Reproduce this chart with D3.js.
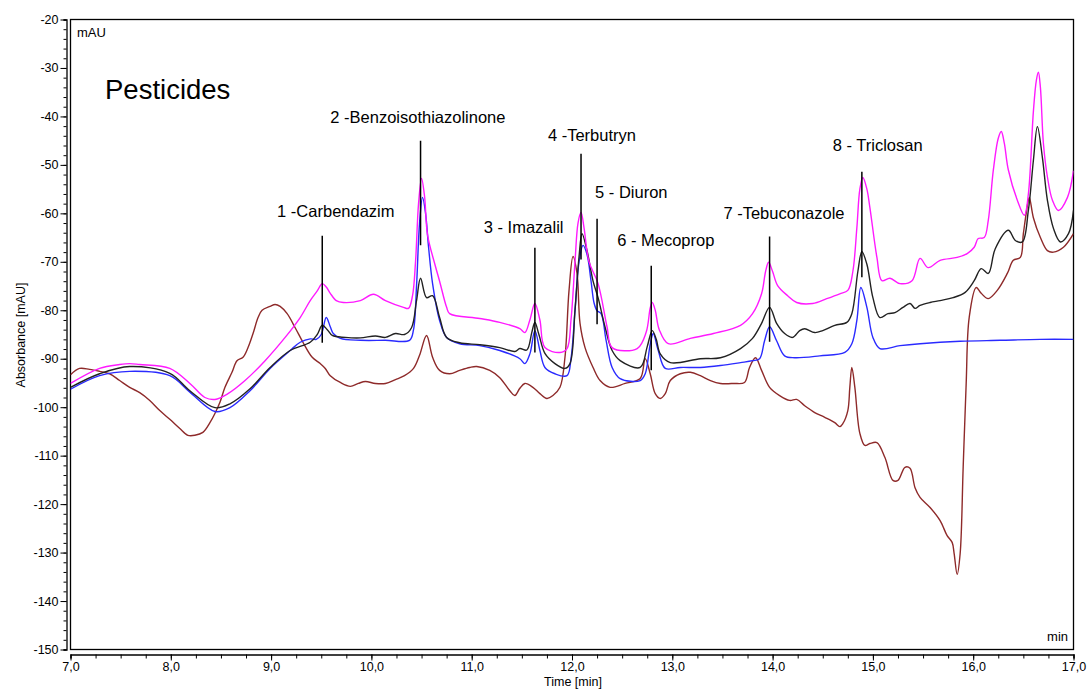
<!DOCTYPE html>
<html><head><meta charset="utf-8">
<script src="https://cdn.jsdelivr.net/npm/d3@7"></script>
<style>body{margin:0;background:#fff}svg{display:block;font-family:"Liberation Sans",Arial,sans-serif}</style>
</head><body><svg id="c" width="1090" height="690"></svg>
<script>
// ---- data (time [min], absorbance [mAU]) ----
const magenta = [[7.00,-95.1],[7.29,-92.0],[7.49,-91.2],[7.59,-91.0],[7.69,-91.2],[7.99,-92.0],[8.19,-95.1],[8.34,-98.0],[8.44,-98.4],[8.57,-97.2],[8.74,-94.5],[8.94,-90.4],[9.14,-85.6],[9.29,-81.5],[9.39,-78.0],[9.46,-76.0],[9.51,-74.5],[9.55,-75.2],[9.59,-76.5],[9.65,-78.0],[9.72,-78.4],[9.89,-78.0],[10.02,-76.7],[10.14,-78.0],[10.32,-79.4],[10.37,-79.6],[10.41,-77],[10.44,-70],[10.47,-58],[10.50,-52.8],[10.53,-56.5],[10.56,-64.5],[10.63,-70.3],[10.68,-74],[10.75,-79.4],[10.78,-80.7],[11.08,-81.7],[11.28,-82.5],[11.48,-83.8],[11.53,-84.6],[11.58,-82],[11.63,-78.6],[11.68,-82],[11.73,-87.7],[11.88,-88.7],[11.95,-87.9],[11.99,-82],[12.03,-70],[12.06,-62],[12.09,-59.8],[12.12,-63],[12.17,-70],[12.26,-74.5],[12.35,-83.5],[12.40,-87.7],[12.65,-87.9],[12.74,-84.5],[12.78,-79.5],[12.80,-78.4],[12.83,-80],[12.87,-84],[12.96,-86.9],[13.18,-85.8],[13.41,-84.8],[13.68,-83.1],[13.80,-80.7],[13.89,-76.6],[13.93,-72.0],[13.96,-70.1],[14.00,-72.0],[14.05,-74.9],[14.15,-77.0],[14.24,-78.4],[14.40,-78.6],[14.54,-77.6],[14.67,-76.6],[14.75,-75.9],[14.80,-72],[14.84,-63],[14.87,-55],[14.90,-52.6],[14.94,-55],[14.97,-58.8],[15.04,-69.1],[15.09,-73.9],[15.17,-73.4],[15.27,-74.5],[15.39,-73.9],[15.47,-69.3],[15.55,-71.2],[15.67,-69.7],[15.84,-69.1],[15.94,-68.3],[16.01,-67.0],[16.05,-65.2],[16.11,-65.0],[16.15,-61.5],[16.20,-51.2],[16.25,-44.5],[16.28,-43.1],[16.31,-45.5],[16.35,-51.0],[16.44,-57.3],[16.51,-60.4],[16.55,-56],[16.60,-39],[16.63,-32.5],[16.65,-30.9],[16.67,-34],[16.70,-45.6],[16.74,-52.5],[16.79,-57.3],[16.85,-59.4],[16.94,-56.7],[17.00,-51.2]];
const black = [[7.00,-95.9],[7.29,-93.1],[7.59,-91.6],[7.99,-93.0],[8.19,-96.6],[8.44,-100.1],[8.59,-99.3],[8.79,-96.2],[8.99,-91.8],[9.19,-88.3],[9.39,-86.6],[9.46,-85.0],[9.51,-83.1],[9.56,-84.0],[9.61,-85.2],[9.74,-85.6],[9.89,-85.7],[10.04,-85.3],[10.14,-85.6],[10.24,-84.8],[10.33,-85.0],[10.40,-83.6],[10.45,-78],[10.49,-73.4],[10.55,-77.4],[10.61,-77.0],[10.68,-81.5],[10.75,-85.6],[10.88,-86.7],[11.08,-87.1],[11.28,-87.7],[11.43,-88.5],[11.48,-87.9],[11.55,-88.2],[11.60,-84.5],[11.63,-82.5],[11.67,-85],[11.73,-88.9],[11.83,-91.0],[11.93,-92.0],[11.98,-91.0],[12.03,-80],[12.07,-69],[12.10,-64.2],[12.15,-67.7],[12.21,-74],[12.26,-77.4],[12.33,-83.5],[12.40,-88.3],[12.48,-90.4],[12.68,-91.8],[12.75,-87.5],[12.80,-84.2],[12.84,-86],[12.88,-89.0],[12.98,-90.8],[13.28,-90.0],[13.48,-89.8],[13.68,-87.9],[13.80,-85.8],[13.89,-82.7],[13.97,-79.4],[14.04,-82.7],[14.12,-84.8],[14.20,-85.6],[14.27,-84.2],[14.32,-83.8],[14.42,-84.6],[14.50,-84.2],[14.62,-83.1],[14.74,-82.5],[14.79,-80.7],[14.85,-72],[14.89,-67.9],[14.94,-70.5],[15.00,-77.4],[15.07,-81.5],[15.15,-80.7],[15.22,-80.5],[15.30,-79.4],[15.37,-78.6],[15.42,-79.6],[15.47,-79.0],[15.57,-78.4],[15.67,-78.0],[15.80,-77.4],[15.92,-76.3],[16.01,-73.9],[16.08,-71.4],[16.15,-72.4],[16.22,-67.3],[16.35,-63.5],[16.42,-65.6],[16.49,-65.9],[16.55,-59.4],[16.60,-49.1],[16.64,-42.1],[16.69,-48.5],[16.74,-57.3],[16.80,-63.1],[16.87,-65.9],[16.95,-64.2],[17.00,-59.4]];
const blue = [[7.00,-96.3],[7.29,-93.5],[7.59,-92.6],[7.99,-93.5],[8.19,-96.9],[8.44,-100.9],[8.59,-100.1],[8.79,-96.6],[8.99,-92.0],[9.19,-88.3],[9.29,-86.6],[9.39,-85.9],[9.45,-86.0],[9.50,-85.0],[9.55,-81.5],[9.59,-83.4],[9.62,-84.8],[9.69,-85.8],[9.89,-86.2],[10.14,-86.2],[10.38,-86.2],[10.42,-84],[10.45,-75],[10.48,-62],[10.51,-56.7],[10.54,-60],[10.57,-67],[10.61,-74.5],[10.68,-82.1],[10.75,-85.6],[10.88,-86.9],[11.08,-87.3],[11.28,-88.3],[11.48,-90.0],[11.53,-91.0],[11.58,-89],[11.63,-84.2],[11.68,-88.3],[11.73,-91.8],[11.83,-93.1],[11.95,-93.5],[11.99,-90.0],[12.03,-80.0],[12.07,-70],[12.11,-66.6],[12.15,-68.5],[12.19,-74],[12.22,-78.5],[12.25,-80.1],[12.29,-80.7],[12.34,-86.2],[12.40,-91.8],[12.48,-94.1],[12.68,-94.5],[12.73,-93.1],[12.78,-87],[12.81,-84.8],[12.86,-88.3],[12.93,-92.0],[13.08,-91.8],[13.28,-91.8],[13.48,-91.4],[13.68,-90.8],[13.80,-90.4],[13.87,-90.0],[13.92,-86.3],[13.97,-83.4],[14.04,-86.3],[14.12,-89.4],[14.22,-89.8],[14.47,-89.4],[14.72,-88.7],[14.79,-86.9],[14.84,-82.1],[14.88,-75.3],[14.94,-79.4],[15.00,-85.6],[15.07,-87.9],[15.27,-87.3],[15.47,-86.9],[15.87,-86.4],[16.27,-86.2],[16.67,-86.0],[17.00,-86.0]];
const brown = [[7.00,-93.3],[7.09,-92.0],[7.19,-92.2],[7.29,-92.6],[7.39,-93.1],[7.49,-94.5],[7.59,-95.9],[7.69,-97.0],[7.79,-98.6],[7.89,-100.7],[7.99,-102.5],[8.09,-104.4],[8.17,-105.8],[8.24,-105.8],[8.32,-105.2],[8.39,-103.2],[8.44,-101.3],[8.49,-99.0],[8.54,-95.9],[8.61,-92.8],[8.66,-90.4],[8.72,-89.7],[8.77,-87.7],[8.82,-84.8],[8.87,-81.5],[8.91,-80.0],[8.99,-79.2],[9.04,-78.8],[9.09,-79.2],[9.16,-80.7],[9.24,-83.6],[9.32,-86.7],[9.41,-89.7],[9.49,-91.0],[9.54,-92.0],[9.59,-93.5],[9.69,-94.9],[9.79,-95.7],[9.87,-95.1],[9.94,-94.7],[10.04,-95.1],[10.14,-95.1],[10.24,-94.3],[10.33,-93.5],[10.42,-92.0],[10.48,-89.3],[10.55,-85.2],[10.61,-89.7],[10.68,-92.4],[10.78,-93.1],[10.88,-92.4],[10.98,-91.8],[11.05,-91.6],[11.18,-92.4],[11.28,-93.9],[11.38,-96.6],[11.43,-97.6],[11.48,-96.1],[11.53,-95.1],[11.61,-95.9],[11.68,-97.2],[11.75,-98.2],[11.81,-97.6],[11.88,-95.9],[11.93,-89.7],[11.97,-76],[12.01,-68.9],[12.05,-72.4],[12.08,-82.7],[12.13,-87.7],[12.21,-91.8],[12.28,-94.5],[12.38,-95.9],[12.53,-95.1],[12.68,-94.1],[12.73,-90.0],[12.78,-93.1],[12.83,-97.2],[12.88,-98.2],[12.93,-97.2],[12.98,-94.5],[13.08,-93.1],[13.18,-92.8],[13.28,-93.5],[13.38,-94.5],[13.48,-95.1],[13.61,-95.1],[13.72,-94.9],[13.77,-91.8],[13.83,-89.8],[13.89,-92.4],[13.97,-95.9],[14.07,-97.6],[14.17,-98.6],[14.24,-98.4],[14.32,-99.7],[14.42,-101.1],[14.52,-102.1],[14.62,-103.2],[14.67,-104.0],[14.70,-103.4],[14.75,-100.7],[14.77,-95.9],[14.79,-91.8],[14.82,-95.9],[14.87,-105.4],[14.92,-107.9],[14.97,-107.5],[15.04,-107.3],[15.12,-110.4],[15.20,-115.1],[15.25,-115.1],[15.32,-112.4],[15.37,-112.6],[15.42,-116.6],[15.47,-118.6],[15.57,-120.7],[15.67,-123.4],[15.74,-126.5],[15.79,-127.9],[15.81,-130.2],[15.84,-134.5],[15.87,-130.2],[15.90,-112.4],[15.93,-95.1],[15.96,-81.5],[16.03,-75.3],[16.08,-76.5],[16.15,-77.6],[16.24,-75.9],[16.34,-72.4],[16.40,-69.7],[16.47,-69.1],[16.50,-64.2],[16.55,-57.3],[16.56,-56.7],[16.60,-60.9],[16.67,-65.0],[16.74,-67.7],[16.80,-68.0],[16.90,-67.0],[17.00,-64.2]];

// peak annotations
const peakLabels = ["1 -Carbendazim","2 -Benzoisothiazolinone","3 - Imazalil","4 -Terbutryn","5 - Diuron","6 - Mecoprop","7 -Tebuconazole","8 - Triclosan"];
const peakTimes  = [9.51,10.49,11.63,12.09,12.25,12.79,13.97,14.89];
const peakTop    = [-64.6,-45.0,-67.1,-47.7,-61.1,-70.8,-64.8,-51.4];
const peakBottom = [-86.7,-66.6,-88.7,-69.5,-82.9,-92.4,-86.5,-73.2];
const labelTimes = [9.06,9.59,11.12,11.76,12.23,12.45,13.51,14.60];
const labelVals  = [-60.7,-41.3,-64.0,-45.0,-56.9,-66.8,-61.1,-47.2];

const xTicks = [7,8,9,10,11,12,13,14,15,16,17];
const yTicks = [-150,-140,-130,-120,-110,-100,-90,-80,-70,-60,-50,-40,-30,-20];

// ---- drawing ----
const svg = d3.select("#c");
const x = d3.scaleLinear().domain([7,17]).range([70.5,1073.5]);
const y = d3.scaleLinear().domain([-150,-20]).range([649.5,19.5]);
const fmt = v => d3.format(".1f")(v).replace(".", ",");

// frame
svg.append("rect").attr("x",x(7)).attr("y",y(-20)).attr("width",x(17)-x(7)).attr("height",y(-150)-y(-20))
  .attr("fill","none").attr("stroke","#000").attr("stroke-width",1.3);

// y axis (offset left)
const yAxisG = svg.append("g").attr("transform","translate(66.5,0)");
yAxisG.call(d3.axisLeft(y).tickValues(d3.range(-150,-19,2)).tickSize(3).tickFormat(""))
  .call(g=>g.select(".domain").attr("stroke-width",1.3));
yAxisG.append("g").call(d3.axisLeft(y).tickValues(yTicks).tickSize(6).tickPadding(2).tickFormat(d=>d))
  .call(g=>g.select(".domain").remove())
  .call(g=>g.selectAll("text").attr("font-size",12.5).attr("font-family","Liberation Sans, Arial, sans-serif").attr("fill","#000"));

// x axis (offset below)
const xAxisG = svg.append("g").attr("transform","translate(0,654.5)");
xAxisG.call(d3.axisBottom(x).tickValues(d3.range(7,17.01,0.25)).tickSize(4).tickFormat(""))
  .call(g=>g.select(".domain").attr("stroke-width",1.3));
xAxisG.append("g").call(d3.axisBottom(x).tickValues(xTicks).tickSize(6).tickPadding(2).tickFormat(fmt))
  .call(g=>g.select(".domain").remove())
  .call(g=>g.selectAll("text").attr("font-size",12.5).attr("font-family","Liberation Sans, Arial, sans-serif").attr("fill","#000"));

// clip
svg.append("clipPath").attr("id","clip").append("rect")
  .attr("x",x(7)).attr("y",y(-20)).attr("width",x(17)-x(7)).attr("height",y(-150)-y(-20));

const line = d3.line().x(d=>x(d[0])).y(d=>y(d[1])).curve(d3.curveCatmullRom.alpha(0.5));
const plot = svg.append("g").attr("clip-path","url(#clip)");
const series = [
  {data:brown, color:"#8e2a2a"},
  {data:blue, color:"#2a2aff"},
  {data:black, color:"#222222"},
  {data:magenta, color:"#ff1aff"}
];
plot.selectAll("path.s").data(series).join("path").attr("class","s")
  .attr("d",d=>line(d.data)).attr("fill","none").attr("stroke",d=>d.color)
  .attr("stroke-width",1.4).attr("stroke-linejoin","round");

// peak markers
plot.selectAll("line.pk").data(peakTimes).join("line").attr("class","pk")
  .attr("x1",d=>x(d)).attr("x2",d=>x(d))
  .attr("y1",(d,i)=>y(peakTop[i])).attr("y2",(d,i)=>y(peakBottom[i]))
  .attr("stroke","#000").attr("stroke-width",1.5);

svg.selectAll("text.pl").data(peakLabels).join("text").attr("class","pl")
  .attr("x",(d,i)=>x(labelTimes[i])).attr("y",(d,i)=>y(labelVals[i]))
  .attr("font-size",16.5).attr("fill","#000").text(d=>d);

// texts
svg.append("text").attr("x",105).attr("y",99).attr("font-size",27.5).attr("fill","#000").text("Pesticides");
svg.append("text").attr("x",77).attr("y",37).attr("font-size",13).attr("fill","#000").text("mAU");
svg.append("text").attr("x",1068).attr("y",641).attr("text-anchor","end").attr("font-size",13).attr("fill","#000").text("min");
svg.append("text").attr("x",573).attr("y",686).attr("text-anchor","middle").attr("font-size",12.5).attr("fill","#000").text("Time [min]");
svg.append("text").attr("transform","translate(25,335) rotate(-90)").attr("text-anchor","middle").attr("font-size",12.5).attr("fill","#000").text("Absorbance [mAU]");
</script></body></html>
